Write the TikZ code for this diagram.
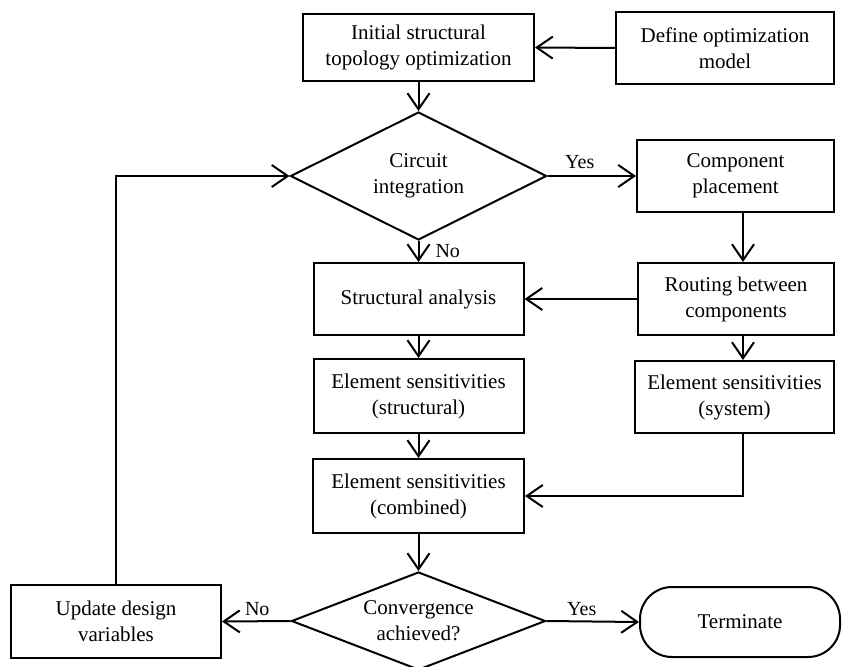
\documentclass[tikz,border=0pt]{standalone}
\usepackage{fontspec}
\setmainfont{Liberation Serif}
\usetikzlibrary{arrows.meta,shapes.geometric}
\begin{document}
\begin{tikzpicture}[x=1pt,y=-1pt,
  every node/.style={font=\fontsize{21}{26}\selectfont},
  box/.style={draw,line width=2pt,rectangle,align=center,inner sep=0pt},
  dec/.style={draw,line width=2pt,diamond,align=center,inner sep=0pt},
  term/.style={draw,line width=2pt,rectangle,rounded corners=32pt,align=center,inner sep=0pt},
  conn/.style={line width=2pt,-{Straight Barb[length=16pt,width=22pt,line width=2pt]}},
  lab/.style={font=\fontsize{20}{24}\selectfont,inner sep=0pt}]
\useasboundingbox (0,0) rectangle (842,666);
\node[box,minimum width=231pt,minimum height=67pt] (init) at (418.5,47.5) {Initial structural\\topology optimization};
\node[box,minimum width=218pt,minimum height=72pt] (def) at (725,48) {Define optimization\\model};
\node[dec,aspect=2,minimum width=256pt,minimum height=128pt] (circ) at (418.5,176) {Circuit\\integration};
\node[box,minimum width=197pt,minimum height=72pt] (comp) at (735.5,176) {Component\\placement};
\node[box,minimum width=210pt,minimum height=72pt] (sa) at (418.5,299) {Structural analysis};
\node[box,minimum width=196pt,minimum height=72pt] (route) at (736,299) {Routing between\\components};
\node[box,minimum width=210pt,minimum height=74pt] (ess) at (418.5,396) {Element sensitivities\\(structural)};
\node[box,minimum width=199pt,minimum height=72pt] (esy) at (734.5,397) {Element sensitivities\\(system)};
\node[box,minimum width=211pt,minimum height=74pt] (esc) at (418.5,496) {Element sensitivities\\(combined)};
\node[dec,aspect=2.6,minimum width=254pt,minimum height=98pt] (conv) at (418.5,621) {\raisebox{-4pt}{\parbox{120pt}{\centering Convergence\\achieved?}}};
\node[box,minimum width=210pt,minimum height=73pt] (upd) at (116,621.5) {Update design\\variables};
\node[term,minimum width=200pt,minimum height=70pt] (end) at (740,622) {Terminate};
\draw[conn] (def.west) -- (init.east);
\draw[conn] (init.south) -- (circ.north);
\draw[conn] (circ.east) -- node[lab,above=6pt,xshift=-12pt] {Yes} (comp.west);
\draw[conn] (circ.south) -- node[lab,right=16pt] {No} (sa.north);
\draw[conn] ([xshift=7.5pt]comp.south) -- ([xshift=7.5pt]comp.south |- route.north);
\draw[conn] (route.west) -- (sa.east);
\draw[conn] ([xshift=7pt]route.south) -- ([xshift=7pt]route.south |- esy.north);
\draw[conn] (sa.south) -- (ess.north);
\draw[conn] (ess.south) -- (esc.north);
\draw[conn] ([xshift=8.5pt]esy.south) |- (esc.east);
\draw[conn] (esc.south) -- (conv.north);
\draw[conn] (conv.west) -- node[lab,above=5pt,xshift=1pt] {No} (upd.east);
\draw[conn] (conv.east) -- node[lab,above=5pt,xshift=-11pt] {Yes} (end.west);
\draw[conn] (upd.north) -- (upd.north |- circ.west) -- (circ.west);
\end{tikzpicture}
\end{document}
